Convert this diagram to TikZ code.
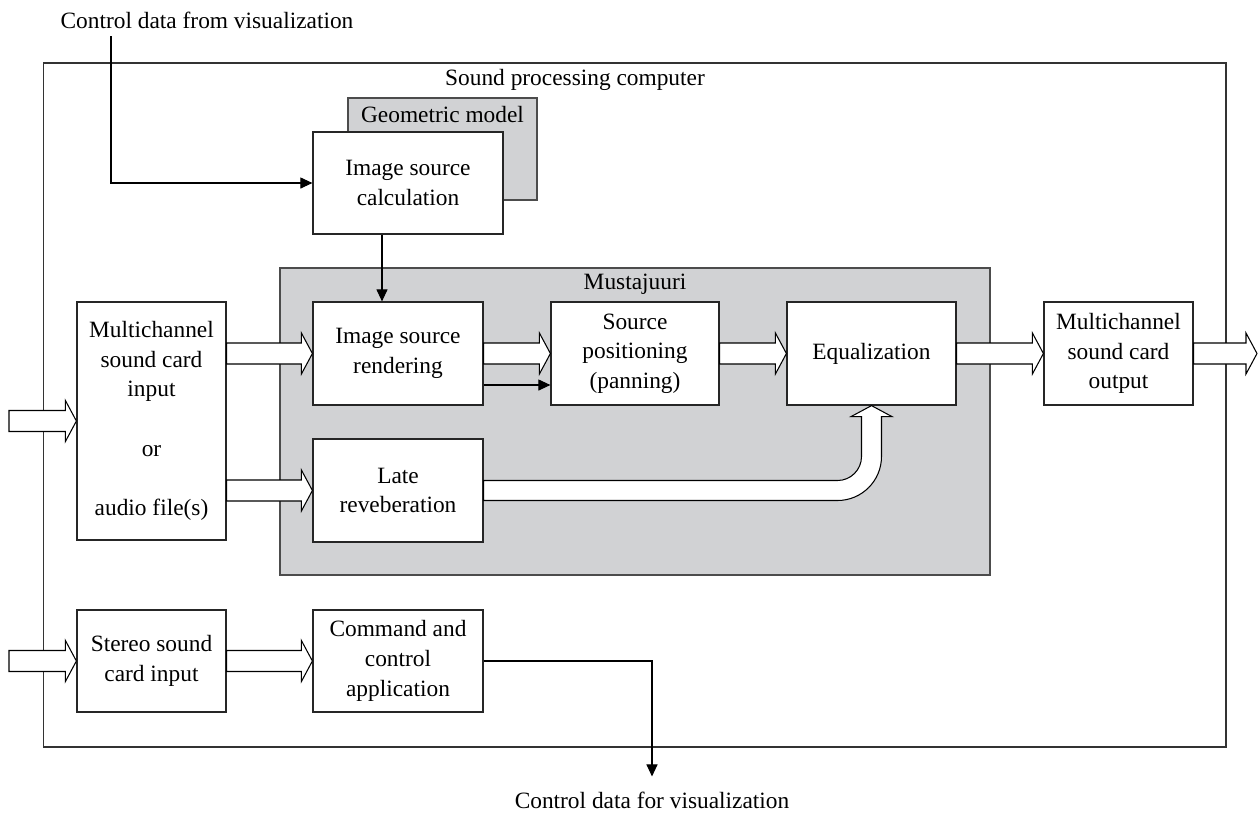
\documentclass[tikz,border=0pt]{standalone}
\usepackage{fontspec}
\setmainfont{Liberation Serif}
\usetikzlibrary{arrows.meta, calc}
\definecolor{panelgray}{RGB}{209,210,212}
\tikzset{
  box/.style={draw=black!85, line width=0.7pt, fill=white, align=center, minimum width=3.4cm, minimum height=2.06cm, inner sep=2pt},
  iobox/.style={box, minimum width=2.98cm},
  panel/.style={draw=black!70, line width=0.7pt, fill=panelgray},
  flow/.style={line width=0.6pt, -{Triangle[length=0.24cm, width=0.22cm]}},
  hollow/.style={draw, line width=0.6pt, fill=white},
}
\newcommand{\blockarrow}[2]{%
  \draw[hollow] let \p1=(#1), \p2=(#2) in
    (\x1,\y1+0.21cm) -- (\x2-0.22cm,\y1+0.21cm) -- (\x2-0.22cm,\y1+0.41cm) -- (\x2,\y1)
    -- (\x2-0.22cm,\y1-0.41cm) -- (\x2-0.22cm,\y1-0.21cm) -- (\x1,\y1-0.21cm) -- cycle;}

\begin{document}
\begin{tikzpicture}[x=0.02cm, y=-0.02cm, font=\fontsize{13.3pt}{16.9pt}\selectfont]
\useasboundingbox (0,0) rectangle (1258,816);

\node[draw=black!80, line width=0.7pt, minimum width=23.66cm, minimum height=13.68cm] (comp) at (634.5,405) {};
\node (complabel) at (575,80) {Sound processing computer};

\node[panel, minimum width=3.78cm, minimum height=2.04cm] (geom) at (442.5,149) {};
\node (geomlabel) at ([yshift=-0.34cm]geom.north) {Geometric model};
\node[box, minimum width=3.8cm, minimum height=2.04cm] (imcalc) at (408,183) {Image source\\calculation};

\node[panel, minimum width=14.2cm, minimum height=6.14cm] (mus) at (635,421.5) {};
\node (muslabel) at ([yshift=-0.34cm]mus.north) {Mustajuuri};

\node[iobox, minimum height=4.76cm] (mcin) at (151.5,421) {Multichannel\\sound card\\input\\[16.9pt]or\\[16.9pt]audio file(s)};
\node[box] (imrend) at (398,353.5) {Image source\\rendering};
\node[box, minimum width=3.36cm] (srcpos) at (635,353.5) {Source\\positioning\\(panning)};
\node[box, minimum width=3.38cm] (eqz) at (871.5,353.5) {Equalization};
\node[iobox] (mcout) at (1118.5,353.5) {Multichannel\\sound card\\output};
\node[box] (laterev) at (398,490.5) {Late\\reveberation};

\node[iobox, minimum height=2.04cm] (stin) at (151.5,661) {Stereo sound\\card input};
\node[box, minimum height=2.04cm] (cmdapp) at (398,661) {Command and\\control\\application};

\node (ctrlin) at (207,20) {Control data from visualization};
\node (ctrlout) at (652,800) {Control data for visualization};

\coordinate (cin) at (111,36);
\coordinate (inpin) at (9,421);
\coordinate (stin0) at (9,661);
\coordinate (outend) at (1257,353.5);

\draw[flow] (cin) |- (imcalc.west);
\draw[flow] ($(imcalc.south)+(-26,0)$) -- ($(imrend.north)+(-16,0)$);
\draw[flow] ($(imrend.east)+(0,31.5)$) -- ($(srcpos.west)+(0,31.5)$);
\draw[flow] (cmdapp.east) -| ([yshift=0.18cm]ctrlout.north);

\blockarrow{inpin}{mcin.west}
\blockarrow{imrend.west -| mcin.east}{imrend.west}
\blockarrow{laterev.west -| mcin.east}{laterev.west}
\blockarrow{imrend.east}{srcpos.west}
\blockarrow{srcpos.east}{eqz.west}
\blockarrow{eqz.east}{mcout.west}
\blockarrow{mcout.east}{outend}
\blockarrow{stin0}{stin.west}
\blockarrow{stin.east}{cmdapp.west}

\draw[hollow] let \p1=(laterev.east), \p2=(eqz.south) in
  (\x1,\y1+0.2cm) -- (\x2-0.68cm,\y1+0.2cm) arc[start angle=-90, end angle=0, radius=0.48cm]
  -- (\x2-0.2cm,\y2-0.22cm) -- (\x2-0.41cm,\y2-0.22cm) -- (\x2,\y2) -- (\x2+0.41cm,\y2-0.22cm)
  -- (\x2+0.2cm,\y2-0.22cm) -- (\x2+0.2cm,\y1+0.68cm) arc[start angle=0, end angle=-90, radius=0.88cm]
  -- (\x1,\y1-0.2cm) -- cycle;
\end{tikzpicture}
\end{document}
